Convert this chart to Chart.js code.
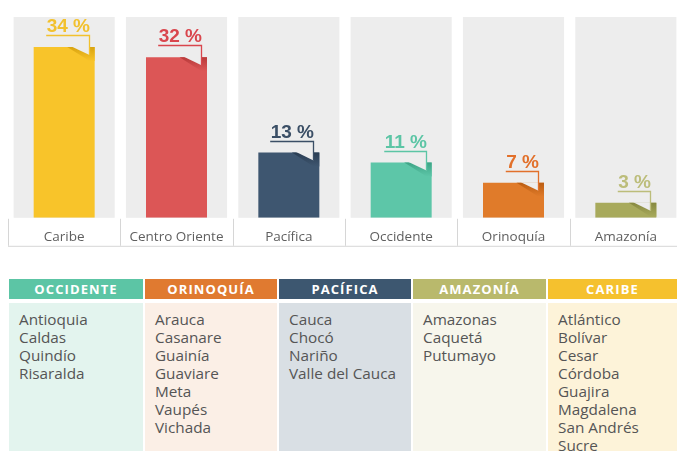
<!DOCTYPE html>
<html>
<head>
<meta charset="utf-8">
<script src="https://cdn.jsdelivr.net/npm/chart.js@4.4.0/dist/chart.umd.min.js"></script>
<style>
  html, body { margin:0; padding:0; background:#fff; overflow:hidden; width:677px; height:451px; }
  #wrap { position:absolute; left:0; top:0; width:682px; height:262px; }
  #tbl { position:absolute; left:0; top:279px; width:677px; height:172px; font-family:"Open Sans", sans-serif; }
  .col { position:absolute; top:0; height:172px; }
  .hd { height:20px; line-height:20px; color:#fff; font-weight:700; font-size:13px; letter-spacing:1.1px; text-align:center; }
  .bd { position:absolute; top:24px; left:0; right:0; bottom:0; padding:7px 0 0 10px; box-sizing:border-box; color:#555; font-size:15.3px; line-height:18px; }
</style>
</head>
<body>
<div id="wrap"><canvas id="c" width="682" height="262"></canvas></div>
<div id="tbl"></div>
<script>
// ---- chart data ----
const categories = ['Caribe', 'Centro Oriente', 'Pacífica', 'Occidente', 'Orinoquía', 'Amazonía'];
const values = [34, 32, 13, 11, 7, 3];
const yMax = 40;
const barColors = ['#f8c42a', '#dc5656', '#3e5670', '#5dc6a8', '#e07b2a', '#a8aa5c'];
const shadeColors = ['#d9a410', '#b83a3a', '#2a3d52', '#3ea486', '#bb5d12', '#878940'];
const labelColors = ['#f2c12e', '#d9464d', '#3b4f66', '#5cc5a5', '#e2702a', '#bcbd7a'];

// ---- table data ----
const regionNames = ['OCCIDENTE', 'ORINOQUÍA', 'PACÍFICA', 'AMAZONÍA', 'CARIBE'];
const occidenteDeps = ['Antioquia', 'Caldas', 'Quindío', 'Risaralda'];
const orinoquiaDeps = ['Arauca', 'Casanare', 'Guainía', 'Guaviare', 'Meta', 'Vaupés', 'Vichada'];
const pacificaDeps = ['Cauca', 'Chocó', 'Nariño', 'Valle del Cauca'];
const amazoniaDeps = ['Amazonas', 'Caquetá', 'Putumayo'];
const caribeDeps = ['Atlántico', 'Bolívar', 'Cesar', 'Córdoba', 'Guajira', 'Magdalena', 'San Andrés', 'Sucre'];
const headerColors = ['#5cc5a5', '#e07a30', '#3d5770', '#b9b96c', '#f5c12e'];
const bodyColors = ['#e3f4ee', '#fbefe6', '#d9dfe4', '#f7f6ec', '#fdf3d9'];

const colLefts = [9, 145, 279, 413, 548];
const colWidths = [134, 132, 132, 133, 129];
const depLists = [occidenteDeps, orinoquiaDeps, pacificaDeps, amazoniaDeps, caribeDeps];
const tbl = document.getElementById('tbl');
regionNames.forEach((r, i) => {
  const col = document.createElement('div');
  col.className = 'col';
  col.style.left = colLefts[i] + 'px';
  col.style.width = colWidths[i] + 'px';
  const hd = document.createElement('div');
  hd.className = 'hd';
  hd.style.background = headerColors[i];
  hd.textContent = r;
  const bd = document.createElement('div');
  bd.className = 'bd';
  bd.style.background = bodyColors[i];
  bd.innerHTML = depLists[i].map(d => '<div>' + d + '</div>').join('');
  col.appendChild(hd);
  col.appendChild(bd);
  tbl.appendChild(col);
});

const deco = {
  id: 'deco',
  beforeDatasetsDraw(chart) {
    const { ctx, scales: { x, y } } = chart;
    const step = x.getPixelForValue(1) - x.getPixelForValue(0);
    const top = y.getPixelForValue(yMax), bottom = y.getPixelForValue(0);
    ctx.save();
    ctx.fillStyle = '#ededed';
    categories.forEach((c, i) => {
      const cx = x.getPixelForValue(i);
      ctx.fillRect(cx - step * 0.45, top, step * 0.9, bottom - top);
    });
    // label box lines
    ctx.strokeStyle = '#d6d6d6';
    ctx.lineWidth = 1;
    const boxBottom = bottom + 28;
    ctx.beginPath();
    for (let i = 0; i < categories.length; i++) {
      const bx = Math.round(x.getPixelForValue(i) - step / 2) + 0.5;
      ctx.moveTo(bx, bottom + 1);
      ctx.lineTo(bx, boxBottom);
    }
    const lx = Math.round(x.getPixelForValue(0) - step / 2);
    ctx.moveTo(lx, boxBottom + 0.5);
    ctx.lineTo(chart.width, boxBottom + 0.5);
    ctx.stroke();
    ctx.restore();
  },
  afterDatasetsDraw(chart) {
    const { ctx } = chart;
    const meta = chart.getDatasetMeta(0);
    ctx.save();
    meta.data.forEach((el, i) => {
      const p = el.getProps(['x', 'y', 'width'], true);
      const left = p.x - p.width / 2, right = p.x + p.width / 2, top = p.y;
      const lineX = Math.round(right - 6) + 0.5;
      // fold notch
      const g = ctx.createLinearGradient(0, top, 0, top + 14);
      g.addColorStop(0, shadeColors[i]);
      g.addColorStop(1, barColors[i]);
      ctx.fillStyle = g;
      ctx.beginPath();
      ctx.moveTo(left + p.width * 0.55, top);
      ctx.lineTo(right, top);
      ctx.lineTo(right, top + 14);
      ctx.lineTo(lineX, top + 14);
      ctx.closePath();
      ctx.fill();
      ctx.fillStyle = '#ededed';
      ctx.beginPath();
      ctx.moveTo(left + p.width * 0.62, top - 0.5);
      ctx.lineTo(lineX, top + 8);
      ctx.lineTo(lineX, top - 0.5);
      ctx.closePath();
      ctx.fill();
      // label + callout line
      const txt = values[i] + ' %';
      ctx.font = 'bold 19px "Liberation Sans", sans-serif';
      const tw = ctx.measureText(txt).width;
      const ly = Math.round(top - 12) + 0.5;
      ctx.strokeStyle = labelColors[i];
      ctx.lineWidth = 1.3;
      ctx.beginPath();
      ctx.moveTo(lineX - tw, ly);
      ctx.lineTo(lineX, ly);
      ctx.lineTo(lineX, top + 8);
      ctx.stroke();
      ctx.fillStyle = labelColors[i];
      ctx.textAlign = 'right';
      ctx.textBaseline = 'alphabetic';
      ctx.fillText(txt, lineX + 0.5, ly - 3.5);
    });
    ctx.restore();
  }
};

new Chart(document.getElementById('c'), {
  type: 'bar',
  data: {
    labels: categories,
    datasets: [{
      data: values,
      backgroundColor: barColors,
      borderWidth: 0,
      barPercentage: 0.543,
      categoryPercentage: 1
    }]
  },
  options: {
    responsive: false,
    animation: false,
    devicePixelRatio: 1,
    layout: { padding: { left: 8, right: 0, top: 17, bottom: 6 } },
    plugins: { legend: { display: false }, tooltip: { enabled: false } },
    scales: {
      x: {
        grid: { display: false, drawTicks: false },
        border: { display: false },
        ticks: { color: '#5f5f5f', padding: 11, font: { family: '"Open Sans", sans-serif', size: 13.5 } }
      },
      y: { display: false, min: 0, max: yMax }
    }
  },
  plugins: [deco]
});
</script>
</body>
</html>
